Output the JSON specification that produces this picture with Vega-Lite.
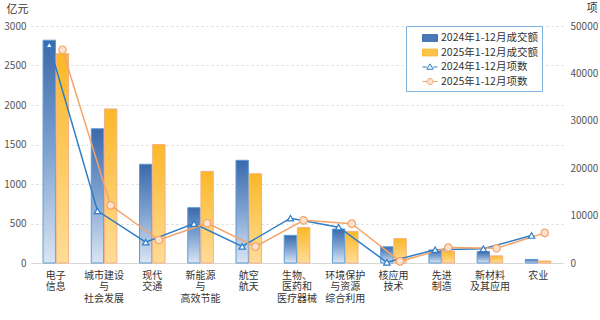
{
  "$schema": "https://vega.github.io/schema/vega-lite/v6.json",
  "width": 532,
  "height": 237,
  "autosize": {"type": "none"},
  "padding": {"left": 31, "top": 26, "right": 37, "bottom": 57},
  "background": "#ffffff",
  "config": {
    "font": "Noto Sans CJK SC",
    "view": {"stroke": null},
    "axis": {"labelFont": "Noto Sans CJK SC", "titleFont": "Noto Sans CJK SC"},
    "legend": {"labelFont": "Noto Sans CJK SC"}
  },
  "data": {
    "values": [
      {"cat": "电子|信息", "yr": "2024", "amount": 2820, "count": 46000, "cs": "2024年1-12月项数"},
      {"cat": "电子|信息", "yr": "2025", "amount": 2650, "count": 45000, "cs": "2025年1-12月项数"},
      {"cat": "城市建设|与|社会发展", "yr": "2024", "amount": 1700, "count": 11000, "cs": "2024年1-12月项数"},
      {"cat": "城市建设|与|社会发展", "yr": "2025", "amount": 1950, "count": 12150, "cs": "2025年1-12月项数"},
      {"cat": "现代|交通", "yr": "2024", "amount": 1250, "count": 4400, "cs": "2024年1-12月项数"},
      {"cat": "现代|交通", "yr": "2025", "amount": 1500, "count": 4850, "cs": "2025年1-12月项数"},
      {"cat": "新能源|与|高效节能", "yr": "2024", "amount": 700, "count": 8300, "cs": "2024年1-12月项数"},
      {"cat": "新能源|与|高效节能", "yr": "2025", "amount": 1160, "count": 8400, "cs": "2025年1-12月项数"},
      {"cat": "航空|航天", "yr": "2024", "amount": 1300, "count": 3500, "cs": "2024年1-12月项数"},
      {"cat": "航空|航天", "yr": "2025", "amount": 1130, "count": 3450, "cs": "2025年1-12月项数"},
      {"cat": "生物、|医药和|医疗器械", "yr": "2024", "amount": 350, "count": 9450, "cs": "2024年1-12月项数"},
      {"cat": "生物、|医药和|医疗器械", "yr": "2025", "amount": 450, "count": 9000, "cs": "2025年1-12月项数"},
      {"cat": "环境保护|与资源|综合利用", "yr": "2024", "amount": 430, "count": 7550, "cs": "2024年1-12月项数"},
      {"cat": "环境保护|与资源|综合利用", "yr": "2025", "amount": 400, "count": 8300, "cs": "2025年1-12月项数"},
      {"cat": "核应用|技术", "yr": "2024", "amount": 205, "count": 150, "cs": "2024年1-12月项数"},
      {"cat": "核应用|技术", "yr": "2025", "amount": 310, "count": 350, "cs": "2025年1-12月项数"},
      {"cat": "先进|制造", "yr": "2024", "amount": 165, "count": 2800, "cs": "2024年1-12月项数"},
      {"cat": "先进|制造", "yr": "2025", "amount": 150, "count": 3250, "cs": "2025年1-12月项数"},
      {"cat": "新材料|及其应用", "yr": "2024", "amount": 145, "count": 3000, "cs": "2024年1-12月项数"},
      {"cat": "新材料|及其应用", "yr": "2025", "amount": 90, "count": 3100, "cs": "2025年1-12月项数"},
      {"cat": "农业", "yr": "2024", "amount": 45, "count": 5800, "cs": "2024年1-12月项数"},
      {"cat": "农业", "yr": "2025", "amount": 25, "count": 6350, "cs": "2025年1-12月项数"}
    ]
  },
  "encoding": {
    "x": {
      "field": "cat", "type": "nominal", "sort": null,
      "scale": {"paddingInner": 0.47, "paddingOuter": 0.25},
      "axis": {
        "title": null, "labelAngle": 0, "labelExpr": "split(datum.value, '|')",
        "labelFontSize": 10, "labelColor": "#333333", "labelPadding": 7, "labelLineHeight": 11.5,
        "labelBaseline": "top", "labelOverlap": false,
        "ticks": false, "domainColor": "#d9d9d9", "domainWidth": 1, "grid": false
      }
    },
    "xOffset": {"field": "yr", "type": "nominal", "scale": {"domain": ["2024", "2025"], "paddingInner": 0.06}}
  },
  "layer": [
    {
      "encoding": {
        "y": {
          "field": "amount", "type": "quantitative",
          "scale": {"domain": [0, 3000], "nice": false},
          "axis": {
            "tickCount": 6, "format": "d", "labelOverlap": false,
            "title": "亿元", "titleAngle": 0, "titleX": -25, "titleY": -17,
            "titleAlign": "left", "titleBaseline": "middle", "titleFontSize": 11,
            "titleFontWeight": "normal", "titleColor": "#333333",
            "labelFontSize": 10, "labelColor": "#555555", "labelPadding": 5,
            "domain": false, "ticks": false,
            "grid": true, "gridColor": "#d9d9d9", "gridDash": [2, 3], "gridWidth": 1
          }
        }
      },
      "layer": [
        {
          "transform": [{"filter": "datum.yr == '2024'"}],
          "mark": {
            "type": "bar",
            "stroke": "#5b9bd5", "strokeWidth": 1,
            "color": {"gradient": "linear", "x1": 0, "y1": 0, "x2": 0, "y2": 1,
              "stops": [{"offset": 0, "color": "#3a69aa"}, {"offset": 0.5, "color": "#7fa3d1"}, {"offset": 1, "color": "#dae5f3"}]}
          }
        },
        {
          "transform": [{"filter": "datum.yr == '2025'"}],
          "mark": {
            "type": "bar",
            "stroke": "#f4b183", "strokeWidth": 1,
            "color": {"gradient": "linear", "x1": 0, "y1": 0, "x2": 0, "y2": 1,
              "stops": [{"offset": 0, "color": "#fbb827"}, {"offset": 1, "color": "#fedc98"}]}
          }
        }
      ]
    },
    {
      "encoding": {
        "y": {
          "field": "count", "type": "quantitative",
          "scale": {"domain": [0, 50000], "nice": false},
          "axis": {
            "orient": "right",
            "tickCount": 5, "format": "d", "labelOverlap": false,
            "title": "项", "titleAngle": 0, "titleX": 23, "titleY": -18,
            "titleAlign": "left", "titleBaseline": "middle", "titleFontSize": 11,
            "titleFontWeight": "normal", "titleColor": "#333333",
            "labelFontSize": 10, "labelColor": "#555555", "labelPadding": 7,
            "domain": false, "ticks": false, "grid": false
          }
        }
      },
      "layer": [
        {
          "mark": {"type": "line", "strokeWidth": 1.5},
          "encoding": {
            "color": {
              "field": "cs", "type": "nominal",
              "scale": {
                "domain": ["2024年1-12月成交额", "2025年1-12月成交额", "2024年1-12月项数", "2025年1-12月项数"],
                "range": ["#3d6dad", "#fbb829", "#2e7dc6", "#f4a46a"]
              },
              "legend": {
                "title": null,
                "orient": "none", "legendX": 375, "legendY": 0,
                "strokeColor": "#7fb2e0", "fillColor": "#ffffff",
                "padding": 4, "symbolOffset": 12,
                "symbolSize": 225, "rowPadding": 0.5,
                "labelFontSize": 10.5, "labelColor": "#333333", "labelOffset": 3,
                "labelExpr": "datum.label + '        '",
                "encode": {
                  "symbols": {
                    "update": {
                      "shape": {"signal": "indexof(datum.value, '成交额') >= 0 ? 'M-1,-0.45H1V0.45H-1Z' : (indexof(datum.value, '2024') >= 0 ? 'M-1,0H-0.42M0.42,0H1M-0.42,0.3L0,-0.42L0.42,0.3Z' : 'M-1,0H-0.4M0.4,0H1M0.4,0A0.4,0.4,0,1,1,-0.4,0A0.4,0.4,0,1,1,0.4,0Z')"},
                      "fill": {"signal": "datum.value == '2024年1-12月成交额' ? '#4a78b8' : (datum.value == '2025年1-12月成交额' ? '#fcc24a' : (datum.value == '2024年1-12月项数' ? '#ffffff' : '#fde3cf'))"},
                      "stroke": {"signal": "datum.value == '2024年1-12月成交额' ? '#5b9bd5' : (datum.value == '2025年1-12月成交额' ? '#f4b183' : (datum.value == '2024年1-12月项数' ? '#2e7dc6' : '#f4a46a'))"},
                      "strokeWidth": {"value": 1},
                      "opacity": {"value": 1},
                      "fillOpacity": {"value": 1},
                      "strokeDash": {"value": []}
                    }
                  }
                }
              }
            }
          }
        },
        {
          "transform": [{"filter": "datum.yr == '2024'"}],
          "mark": {"type": "point", "shape": "triangle-up", "size": 40, "filled": true, "fill": "#ffffff", "stroke": "#2e7dc6", "strokeWidth": 1.2, "opacity": 1}
        },
        {
          "transform": [{"filter": "datum.yr == '2025'"}],
          "mark": {"type": "point", "shape": "circle", "size": 55, "filled": true, "fill": "#fde3cf", "stroke": "#f4a46a", "strokeWidth": 1.2, "opacity": 1}
        }
      ]
    }
  ],
  "resolve": {"scale": {"y": "independent"}}
}
